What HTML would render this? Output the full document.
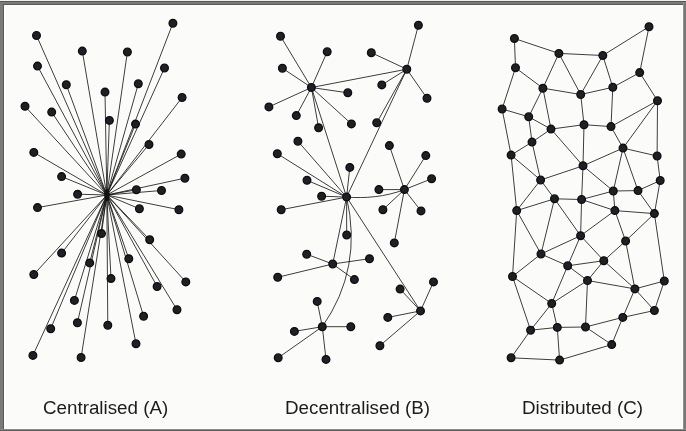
<!DOCTYPE html>
<html><head><meta charset="utf-8"><style>
html,body{margin:0;padding:0;}
body{width:686px;height:431px;overflow:hidden;position:relative;background:#fbfbf9;font-family:"Liberation Sans",sans-serif;}
#b{position:absolute;left:0;top:0;width:686px;height:431px;}
.lab{position:absolute;top:396px;font-size:18.8px;color:#1c1c1c;white-space:nowrap;line-height:24px;will-change:transform;}
</style></head><body>
<svg id="b" width="686" height="431" viewBox="0 0 686 431">
<rect x="0" y="0" width="686" height="431" fill="#fbfbf9"/>
<rect x="0" y="0" width="686" height="1" fill="#eeeeee"/>
<rect x="0" y="1" width="686" height="1" fill="#575757"/>
<rect x="0" y="2" width="686" height="3" fill="#7a7a7a"/>
<rect x="0" y="2" width="4" height="429" fill="#7a7a7a"/>
<rect x="3" y="4" width="680" height="1" fill="#5a5a5a"/>
<rect x="3" y="4" width="1" height="425" fill="#5a5a5a"/>
<rect x="4" y="5" width="679" height="1" fill="#ffffff"/>
<rect x="4" y="5" width="2" height="424" fill="#ffffff"/>
<rect x="682" y="5" width="1" height="424" fill="#ffffff"/>
<rect x="683" y="2" width="1" height="429" fill="#8f8f8f"/>
<rect x="684" y="2" width="2" height="429" fill="#787878"/>
<rect x="4" y="428" width="679" height="1" fill="#ffffff"/>
<rect x="0" y="429" width="686" height="1" fill="#8a8a8a"/>
<rect x="0" y="430" width="686" height="1" fill="#5e5e5e"/>
<path d="M106.8 195L36.5 35.5M106.8 195L82.3 51.1M106.8 195L37.5 66.1M106.8 195L66.3 84.7M106.8 195L105 92.1M106.8 195L25 106.3M106.8 195L172.9 23.2M106.8 195L127.4 52M106.8 195L164.5 68M106.8 195L138.3 83.8M106.8 195L182.1 97.5M106.8 195L51.7 112.1M106.8 195L109.4 120.4M106.8 195L33.8 152.4M106.8 195L61.6 176.6M106.8 195L77.6 194.2M106.8 195L135.5 124.1M106.8 195L149 144.5M106.8 195L181.2 154.1M106.8 195L184.9 178.2M106.8 195L136.4 189.8M106.8 195L161.5 190.5M106.8 195L37.5 207.6M106.8 195L101.5 233.6M106.8 195L61.6 253.1M106.8 195L89.7 262.9M106.8 195L33.8 274.5M106.8 195L111 278.6M106.8 195L139.4 208.8M106.8 195L178.9 209.7M106.8 195L149.7 239.7M106.8 195L128.8 258.7M106.8 195L185.8 281.9M106.8 195L157.1 286.5M106.8 195L74.4 300.4M106.8 195L50.7 328.7M106.8 195L77.4 322.7M106.8 195L107.8 325.2M106.8 195L32.9 355.4M106.8 195L81.1 357.5M106.8 195L143.6 316.2M106.8 195L136 343.8M106.8 195L177 309.7M311.4 87.5L280.5 36.2M311.4 87.5L327.2 51.8M311.4 87.5L282.4 68.2M311.4 87.5L347.8 92.8M311.4 87.5L268.9 106.9M311.4 87.5L296.3 115.6M311.4 87.5L318.6 127.7M311.4 87.5L351.4 123.9M406.8 69.2L418.4 25.3M406.8 69.2L371.3 52.7M406.8 69.2L381.8 84.9M406.8 69.2L427 98.3M406.8 69.2L376.7 122.8M346.6 197.1L349.8 167.4M346.6 197.1L307 180.3M346.6 197.1L297.9 141.2M346.6 197.1L277.3 153.7M346.6 197.1L321.6 196.2M346.6 197.1L281.2 209.7M346.6 197.1L346.7 235M404.4 189.6L378.9 189.6M404.4 189.6L389.4 145.6M404.4 189.6L425.8 155.6M404.4 189.6L431.6 178.8M404.4 189.6L382.9 209.7M404.4 189.6L421 210.9M404.4 189.6L394.3 242.9M332.7 264L306.7 254.2M332.7 264L277.7 277.3M332.7 264L369.5 258.7M332.7 264L354.4 279.6M322.3 326.7L317.2 301.4M322.3 326.7L294.4 331.4M322.3 326.7L350.8 326.7M322.3 326.7L278.2 357.8M322.3 326.7L326 359.4M420.5 310.9L400.1 289.1M420.5 310.9L433.5 281.9M420.5 310.9L387.8 317.4M420.5 310.9L379.9 345.7M311.4 87.5L406.8 69.2M311.4 87.5L346.6 197.1M406.8 69.2L346.6 197.1M346.6 197.1L332.7 264M346.6 197.1L420.5 310.9M514.4 38.5L558.9 53.4M514.4 38.5L515.5 67.8M558.9 53.4L542.9 88.2M558.9 53.4L580.7 94.5M558.9 53.4L602.8 55.5M515.5 67.8L542.9 88.2M515.5 67.8L502.1 109M542.9 88.2L580.7 94.5M542.9 88.2L528.7 116.8M542.9 88.2L551 129.1M580.7 94.5L602.8 55.5M580.7 94.5L612.8 87.3M580.7 94.5L584 124.7M502.1 109L528.7 116.8M502.1 109L511.1 155.1M649 26.7L602.8 55.5M649 26.7L639.7 72.6M602.8 55.5L612.8 87.3M639.7 72.6L612.8 87.3M639.7 72.6L657.5 100.7M612.8 87.3L611 126.6M657.5 100.7L611 126.6M657.5 100.7L623 148.1M657.5 100.7L657.1 156M528.7 116.8L551 129.1M528.7 116.8L532 142.1M551 129.1L584 124.7M551 129.1L532 142.1M551 129.1L583 165.8M584 124.7L583 165.8M584 124.7L611 126.6M532 142.1L511.1 155.1M532 142.1L540.6 180M511.1 155.1L540.6 180M511.1 155.1L516.7 210.6M583 165.8L540.6 180M583 165.8L623 148.1M583 165.8L613.3 191M583 165.8L581.6 199.5M540.6 180L516.7 210.6M540.6 180L554.5 198.8M611 126.6L623 148.1M623 148.1L657.1 156M623 148.1L613.3 191M623 148.1L638 190.6M657.1 156L660.2 180.5M660.2 180.5L638 190.6M660.2 180.5L654.4 213.6M613.3 191L638 190.6M613.3 191L581.6 199.5M613.3 191L614.9 210.6M638 190.6L654.4 213.6M516.7 210.6L554.5 198.8M516.7 210.6L541 254M516.7 210.6L512.5 276.5M554.5 198.8L581.6 199.5M554.5 198.8L580.6 235.7M554.5 198.8L541 254M581.6 199.5L580.6 235.7M581.6 199.5L614.9 210.6M580.6 235.7L541 254M580.6 235.7L567.7 265.8M580.6 235.7L614.9 210.6M580.6 235.7L603.8 260.7M541 254L567.7 265.8M541 254L512.5 276.5M567.7 265.8L603.8 260.7M567.7 265.8L587.5 280.5M567.7 265.8L551.7 303.5M512.5 276.5L551.7 303.5M512.5 276.5L530.6 330.2M614.9 210.6L654.4 213.6M614.9 210.6L625.6 241M654.4 213.6L625.6 241M654.4 213.6L664.3 281M625.6 241L603.8 260.7M625.6 241L634.9 288.9M603.8 260.7L587.5 280.5M603.8 260.7L634.9 288.9M587.5 280.5L551.7 303.5M587.5 280.5L585.5 327M587.5 280.5L634.9 288.9M551.7 303.5L530.6 330.2M551.7 303.5L557.3 327.4M530.6 330.2L557.3 327.4M530.6 330.2L511.1 357.8M557.3 327.4L585.5 327M557.3 327.4L559.6 360.1M585.5 327L622.8 317.4M585.5 327L611.7 344.6M511.1 357.8L559.6 360.1M559.6 360.1L611.7 344.6M664.3 281L634.9 288.9M664.3 281L654.4 310.5M634.9 288.9L654.4 310.5M634.9 288.9L622.8 317.4M654.4 310.5L622.8 317.4M622.8 317.4L611.7 344.6M346.6 197.1Q363 268.5 322.3 326.7M346.6 197.1C365 198.5 385 197 404.4 189.6" stroke="#ffffff" stroke-opacity="0.7" stroke-width="2.6" fill="none"/>
<path d="M106.8 195L36.5 35.5M106.8 195L82.3 51.1M106.8 195L37.5 66.1M106.8 195L66.3 84.7M106.8 195L105 92.1M106.8 195L25 106.3M106.8 195L172.9 23.2M106.8 195L127.4 52M106.8 195L164.5 68M106.8 195L138.3 83.8M106.8 195L182.1 97.5M106.8 195L51.7 112.1M106.8 195L109.4 120.4M106.8 195L33.8 152.4M106.8 195L61.6 176.6M106.8 195L77.6 194.2M106.8 195L135.5 124.1M106.8 195L149 144.5M106.8 195L181.2 154.1M106.8 195L184.9 178.2M106.8 195L136.4 189.8M106.8 195L161.5 190.5M106.8 195L37.5 207.6M106.8 195L101.5 233.6M106.8 195L61.6 253.1M106.8 195L89.7 262.9M106.8 195L33.8 274.5M106.8 195L111 278.6M106.8 195L139.4 208.8M106.8 195L178.9 209.7M106.8 195L149.7 239.7M106.8 195L128.8 258.7M106.8 195L185.8 281.9M106.8 195L157.1 286.5M106.8 195L74.4 300.4M106.8 195L50.7 328.7M106.8 195L77.4 322.7M106.8 195L107.8 325.2M106.8 195L32.9 355.4M106.8 195L81.1 357.5M106.8 195L143.6 316.2M106.8 195L136 343.8M106.8 195L177 309.7M311.4 87.5L280.5 36.2M311.4 87.5L327.2 51.8M311.4 87.5L282.4 68.2M311.4 87.5L347.8 92.8M311.4 87.5L268.9 106.9M311.4 87.5L296.3 115.6M311.4 87.5L318.6 127.7M311.4 87.5L351.4 123.9M406.8 69.2L418.4 25.3M406.8 69.2L371.3 52.7M406.8 69.2L381.8 84.9M406.8 69.2L427 98.3M406.8 69.2L376.7 122.8M346.6 197.1L349.8 167.4M346.6 197.1L307 180.3M346.6 197.1L297.9 141.2M346.6 197.1L277.3 153.7M346.6 197.1L321.6 196.2M346.6 197.1L281.2 209.7M346.6 197.1L346.7 235M404.4 189.6L378.9 189.6M404.4 189.6L389.4 145.6M404.4 189.6L425.8 155.6M404.4 189.6L431.6 178.8M404.4 189.6L382.9 209.7M404.4 189.6L421 210.9M404.4 189.6L394.3 242.9M332.7 264L306.7 254.2M332.7 264L277.7 277.3M332.7 264L369.5 258.7M332.7 264L354.4 279.6M322.3 326.7L317.2 301.4M322.3 326.7L294.4 331.4M322.3 326.7L350.8 326.7M322.3 326.7L278.2 357.8M322.3 326.7L326 359.4M420.5 310.9L400.1 289.1M420.5 310.9L433.5 281.9M420.5 310.9L387.8 317.4M420.5 310.9L379.9 345.7M311.4 87.5L406.8 69.2M311.4 87.5L346.6 197.1M406.8 69.2L346.6 197.1M346.6 197.1L332.7 264M346.6 197.1L420.5 310.9M514.4 38.5L558.9 53.4M514.4 38.5L515.5 67.8M558.9 53.4L542.9 88.2M558.9 53.4L580.7 94.5M558.9 53.4L602.8 55.5M515.5 67.8L542.9 88.2M515.5 67.8L502.1 109M542.9 88.2L580.7 94.5M542.9 88.2L528.7 116.8M542.9 88.2L551 129.1M580.7 94.5L602.8 55.5M580.7 94.5L612.8 87.3M580.7 94.5L584 124.7M502.1 109L528.7 116.8M502.1 109L511.1 155.1M649 26.7L602.8 55.5M649 26.7L639.7 72.6M602.8 55.5L612.8 87.3M639.7 72.6L612.8 87.3M639.7 72.6L657.5 100.7M612.8 87.3L611 126.6M657.5 100.7L611 126.6M657.5 100.7L623 148.1M657.5 100.7L657.1 156M528.7 116.8L551 129.1M528.7 116.8L532 142.1M551 129.1L584 124.7M551 129.1L532 142.1M551 129.1L583 165.8M584 124.7L583 165.8M584 124.7L611 126.6M532 142.1L511.1 155.1M532 142.1L540.6 180M511.1 155.1L540.6 180M511.1 155.1L516.7 210.6M583 165.8L540.6 180M583 165.8L623 148.1M583 165.8L613.3 191M583 165.8L581.6 199.5M540.6 180L516.7 210.6M540.6 180L554.5 198.8M611 126.6L623 148.1M623 148.1L657.1 156M623 148.1L613.3 191M623 148.1L638 190.6M657.1 156L660.2 180.5M660.2 180.5L638 190.6M660.2 180.5L654.4 213.6M613.3 191L638 190.6M613.3 191L581.6 199.5M613.3 191L614.9 210.6M638 190.6L654.4 213.6M516.7 210.6L554.5 198.8M516.7 210.6L541 254M516.7 210.6L512.5 276.5M554.5 198.8L581.6 199.5M554.5 198.8L580.6 235.7M554.5 198.8L541 254M581.6 199.5L580.6 235.7M581.6 199.5L614.9 210.6M580.6 235.7L541 254M580.6 235.7L567.7 265.8M580.6 235.7L614.9 210.6M580.6 235.7L603.8 260.7M541 254L567.7 265.8M541 254L512.5 276.5M567.7 265.8L603.8 260.7M567.7 265.8L587.5 280.5M567.7 265.8L551.7 303.5M512.5 276.5L551.7 303.5M512.5 276.5L530.6 330.2M614.9 210.6L654.4 213.6M614.9 210.6L625.6 241M654.4 213.6L625.6 241M654.4 213.6L664.3 281M625.6 241L603.8 260.7M625.6 241L634.9 288.9M603.8 260.7L587.5 280.5M603.8 260.7L634.9 288.9M587.5 280.5L551.7 303.5M587.5 280.5L585.5 327M587.5 280.5L634.9 288.9M551.7 303.5L530.6 330.2M551.7 303.5L557.3 327.4M530.6 330.2L557.3 327.4M530.6 330.2L511.1 357.8M557.3 327.4L585.5 327M557.3 327.4L559.6 360.1M585.5 327L622.8 317.4M585.5 327L611.7 344.6M511.1 357.8L559.6 360.1M559.6 360.1L611.7 344.6M664.3 281L634.9 288.9M664.3 281L654.4 310.5M634.9 288.9L654.4 310.5M634.9 288.9L622.8 317.4M654.4 310.5L622.8 317.4M622.8 317.4L611.7 344.6M346.6 197.1Q363 268.5 322.3 326.7M346.6 197.1C365 198.5 385 197 404.4 189.6" stroke="#181815" stroke-width="0.85" fill="none"/>
<g fill="#1d2024" stroke="#0d0d0d" stroke-width="1.3"><circle cx="36.5" cy="35.5" r="3.85"/><circle cx="82.3" cy="51.1" r="3.85"/><circle cx="37.5" cy="66.1" r="3.85"/><circle cx="66.3" cy="84.7" r="3.85"/><circle cx="105" cy="92.1" r="3.85"/><circle cx="25" cy="106.3" r="3.85"/><circle cx="172.9" cy="23.2" r="3.85"/><circle cx="127.4" cy="52" r="3.85"/><circle cx="164.5" cy="68" r="3.85"/><circle cx="138.3" cy="83.8" r="3.85"/><circle cx="182.1" cy="97.5" r="3.85"/><circle cx="51.7" cy="112.1" r="3.85"/><circle cx="109.4" cy="120.4" r="3.85"/><circle cx="33.8" cy="152.4" r="3.85"/><circle cx="61.6" cy="176.6" r="3.85"/><circle cx="77.6" cy="194.2" r="3.85"/><circle cx="135.5" cy="124.1" r="3.85"/><circle cx="149" cy="144.5" r="3.85"/><circle cx="181.2" cy="154.1" r="3.85"/><circle cx="184.9" cy="178.2" r="3.85"/><circle cx="136.4" cy="189.8" r="3.85"/><circle cx="161.5" cy="190.5" r="3.85"/><circle cx="37.5" cy="207.6" r="3.85"/><circle cx="101.5" cy="233.6" r="3.85"/><circle cx="61.6" cy="253.1" r="3.85"/><circle cx="89.7" cy="262.9" r="3.85"/><circle cx="33.8" cy="274.5" r="3.85"/><circle cx="111" cy="278.6" r="3.85"/><circle cx="139.4" cy="208.8" r="3.85"/><circle cx="178.9" cy="209.7" r="3.85"/><circle cx="149.7" cy="239.7" r="3.85"/><circle cx="128.8" cy="258.7" r="3.85"/><circle cx="185.8" cy="281.9" r="3.85"/><circle cx="157.1" cy="286.5" r="3.85"/><circle cx="74.4" cy="300.4" r="3.85"/><circle cx="50.7" cy="328.7" r="3.85"/><circle cx="77.4" cy="322.7" r="3.85"/><circle cx="107.8" cy="325.2" r="3.85"/><circle cx="32.9" cy="355.4" r="3.85"/><circle cx="81.1" cy="357.5" r="3.85"/><circle cx="143.6" cy="316.2" r="3.85"/><circle cx="136" cy="343.8" r="3.85"/><circle cx="177" cy="309.7" r="3.85"/><circle cx="280.5" cy="36.2" r="3.85"/><circle cx="327.2" cy="51.8" r="3.85"/><circle cx="282.4" cy="68.2" r="3.85"/><circle cx="347.8" cy="92.8" r="3.85"/><circle cx="268.9" cy="106.9" r="3.85"/><circle cx="296.3" cy="115.6" r="3.85"/><circle cx="318.6" cy="127.7" r="3.85"/><circle cx="351.4" cy="123.9" r="3.85"/><circle cx="418.4" cy="25.3" r="3.85"/><circle cx="371.3" cy="52.7" r="3.85"/><circle cx="381.8" cy="84.9" r="3.85"/><circle cx="427" cy="98.3" r="3.85"/><circle cx="376.7" cy="122.8" r="3.85"/><circle cx="349.8" cy="167.4" r="3.85"/><circle cx="307" cy="180.3" r="3.85"/><circle cx="297.9" cy="141.2" r="3.85"/><circle cx="277.3" cy="153.7" r="3.85"/><circle cx="321.6" cy="196.2" r="3.85"/><circle cx="281.2" cy="209.7" r="3.85"/><circle cx="346.7" cy="235" r="3.85"/><circle cx="378.9" cy="189.6" r="3.85"/><circle cx="389.4" cy="145.6" r="3.85"/><circle cx="425.8" cy="155.6" r="3.85"/><circle cx="431.6" cy="178.8" r="3.85"/><circle cx="382.9" cy="209.7" r="3.85"/><circle cx="421" cy="210.9" r="3.85"/><circle cx="394.3" cy="242.9" r="3.85"/><circle cx="306.7" cy="254.2" r="3.85"/><circle cx="277.7" cy="277.3" r="3.85"/><circle cx="369.5" cy="258.7" r="3.85"/><circle cx="354.4" cy="279.6" r="3.85"/><circle cx="317.2" cy="301.4" r="3.85"/><circle cx="294.4" cy="331.4" r="3.85"/><circle cx="350.8" cy="326.7" r="3.85"/><circle cx="278.2" cy="357.8" r="3.85"/><circle cx="326" cy="359.4" r="3.85"/><circle cx="400.1" cy="289.1" r="3.85"/><circle cx="433.5" cy="281.9" r="3.85"/><circle cx="387.8" cy="317.4" r="3.85"/><circle cx="379.9" cy="345.7" r="3.85"/><circle cx="311.4" cy="87.5" r="3.85"/><circle cx="406.8" cy="69.2" r="3.85"/><circle cx="346.6" cy="197.1" r="3.85"/><circle cx="404.4" cy="189.6" r="3.85"/><circle cx="332.7" cy="264" r="3.85"/><circle cx="322.3" cy="326.7" r="3.85"/><circle cx="420.5" cy="310.9" r="3.85"/><circle cx="514.4" cy="38.5" r="3.85"/><circle cx="558.9" cy="53.4" r="3.85"/><circle cx="515.5" cy="67.8" r="3.85"/><circle cx="542.9" cy="88.2" r="3.85"/><circle cx="580.7" cy="94.5" r="3.85"/><circle cx="502.1" cy="109" r="3.85"/><circle cx="649" cy="26.7" r="3.85"/><circle cx="602.8" cy="55.5" r="3.85"/><circle cx="639.7" cy="72.6" r="3.85"/><circle cx="612.8" cy="87.3" r="3.85"/><circle cx="657.5" cy="100.7" r="3.85"/><circle cx="528.7" cy="116.8" r="3.85"/><circle cx="551" cy="129.1" r="3.85"/><circle cx="584" cy="124.7" r="3.85"/><circle cx="532" cy="142.1" r="3.85"/><circle cx="511.1" cy="155.1" r="3.85"/><circle cx="583" cy="165.8" r="3.85"/><circle cx="540.6" cy="180" r="3.85"/><circle cx="611" cy="126.6" r="3.85"/><circle cx="623" cy="148.1" r="3.85"/><circle cx="657.1" cy="156" r="3.85"/><circle cx="660.2" cy="180.5" r="3.85"/><circle cx="613.3" cy="191" r="3.85"/><circle cx="638" cy="190.6" r="3.85"/><circle cx="516.7" cy="210.6" r="3.85"/><circle cx="554.5" cy="198.8" r="3.85"/><circle cx="581.6" cy="199.5" r="3.85"/><circle cx="580.6" cy="235.7" r="3.85"/><circle cx="541" cy="254" r="3.85"/><circle cx="567.7" cy="265.8" r="3.85"/><circle cx="512.5" cy="276.5" r="3.85"/><circle cx="614.9" cy="210.6" r="3.85"/><circle cx="654.4" cy="213.6" r="3.85"/><circle cx="625.6" cy="241" r="3.85"/><circle cx="603.8" cy="260.7" r="3.85"/><circle cx="587.5" cy="280.5" r="3.85"/><circle cx="551.7" cy="303.5" r="3.85"/><circle cx="530.6" cy="330.2" r="3.85"/><circle cx="557.3" cy="327.4" r="3.85"/><circle cx="585.5" cy="327" r="3.85"/><circle cx="511.1" cy="357.8" r="3.85"/><circle cx="559.6" cy="360.1" r="3.85"/><circle cx="664.3" cy="281" r="3.85"/><circle cx="634.9" cy="288.9" r="3.85"/><circle cx="654.4" cy="310.5" r="3.85"/><circle cx="622.8" cy="317.4" r="3.85"/><circle cx="611.7" cy="344.6" r="3.85"/><ellipse cx="106.8" cy="195" rx="2.6" ry="6.2" stroke="none" fill="#111"/></g>
</svg>
<div class="lab" style="left:42.5px">Centralised (A)</div>
<div class="lab" style="left:284.5px">Decentralised (B)</div>
<div class="lab" style="left:522px">Distributed (C)</div>
</body></html>
